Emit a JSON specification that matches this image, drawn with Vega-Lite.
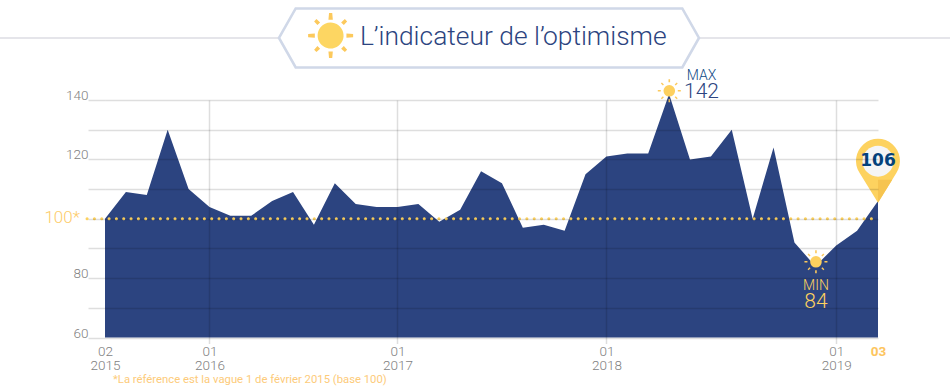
{
"$schema":"https://vega.github.io/schema/vega-lite/v6.json",
"width":773,"height":237.5,
"autosize":{"type":"none"},
"padding":{"left":105,"top":100,"right":72,"bottom":52.5},
"background":"white",
"config":{"view":{"stroke":null},"font":"Roboto"},
"datasets":{
"waves":[{"i":0,"v":100},{"i":1,"v":109},{"i":2,"v":108},{"i":3,"v":130},{"i":4,"v":110},{"i":5,"v":104},{"i":6,"v":101},{"i":7,"v":101},{"i":8,"v":106},{"i":9,"v":109},{"i":10,"v":98},{"i":11,"v":112},{"i":12,"v":105},{"i":13,"v":104},{"i":14,"v":104},{"i":15,"v":105},{"i":16,"v":99},{"i":17,"v":103},{"i":18,"v":116},{"i":19,"v":112},{"i":20,"v":97},{"i":21,"v":98},{"i":22,"v":96},{"i":23,"v":115},{"i":24,"v":121},{"i":25,"v":122},{"i":26,"v":122},{"i":27,"v":142},{"i":28,"v":120},{"i":29,"v":121},{"i":30,"v":130},{"i":31,"v":100},{"i":32,"v":124},{"i":33,"v":92},{"i":34,"v":84},{"i":35,"v":91},{"i":36,"v":96},{"i":37,"v":106}]
},
"encoding":{
 "x":{"field":"i","type":"quantitative","scale":{"domain":[0,37],"nice":false,"zero":false},
   "axis":{"values":[0,5,14,24,35,37],"title":null,"domain":false,"grid":true,"zindex":1,
     "gridColor":"#000","gridOpacity":{"condition":{"test":"datum.value==0||datum.value==37","value":0},"value":0.13},"gridWidth":1.5,
     "tickColor":"#000","tickOpacity":{"condition":{"test":"datum.value==0||datum.value==37","value":0},"value":0.13},"tickSize":6,"tickWidth":1.5,
     "labelExpr":"({'0':['02','2015'],'5':['01','2016'],'14':['01','2017'],'24':['01','2018'],'35':['01','2019'],'37':['03']})[datum.value]",
     "labelFont":"Roboto","labelFontSize":13.5,"labelLineHeight":14,"labelPadding":1,"labelOverlap":false,"labelFlush":false,"labelBound":false,
     "labelColor":{"condition":{"test":"datum.value==37","value":"#fdc55e"},"value":"#7f7f7f"},
     "labelFontWeight":{"condition":{"test":"datum.value==37","value":"bold"},"value":300}}},
 "y":{"field":"v","type":"quantitative","scale":{"domain":[60,140],"nice":false,"zero":false},
   "axis":{"values":[60,70,80,90,100,110,120,130,140],"title":null,"domain":false,"grid":true,"zindex":1,
     "gridColor":"#000","gridOpacity":0.13,"gridWidth":1.5,"tickColor":"#000","tickOpacity":0.13,"tickSize":17,"tickWidth":1.5,
     "labelExpr":"(datum.value%20==0&&datum.value!=100)?datum.label:''","labelFont":"Roboto","labelFontSize":13.5,"labelFontWeight":300,"labelColor":"#7f7f7f","labelPadding":0,"labelBaseline":"alphabetic","labelOffset":-0.5}}
},
"layer":[
{"data":{"values":[{"i":-5.03,"i2":40.45,"v":160.9}]},
 "mark":{"type":"rule","stroke":"#dcdde3","strokeWidth":1.5,"clip":false},
 "encoding":{"x2":{"field":"i2"}}},
{"data":{"name":"waves"},"mark":{"type":"area","color":"#2c4480","clip":false},
 "encoding":{"y2":{"datum":60}}},
{"data":{"values":[{"i":-0.86,"i2":37,"v":100}]},
 "mark":{"type":"rule","stroke":"#fdd25f","strokeWidth":3,"strokeDash":[0.1,7.23],"strokeCap":"round","clip":false},
 "encoding":{"x2":{"field":"i2"}}},
{"data":{"values":[{"i":18.38,"v":160.9}]},
 "mark":{"type":"point","shape":"M-210,0L-193.3,-29.5L193.3,-29.5L210,0L193.3,29.5L-193.3,29.5Z","size":4,"filled":true,"fill":"white","stroke":"#d0d8e8","strokeWidth":2.6,"opacity":1,"clip":false}},
{"data":{"values":[{"i":10.8,"v":161.7}]},
 "mark":{"type":"point","shape":"M-1.6,-22.5L1.6,-22.5L2.2,-15.8L-2.2,-15.8Z M-2.2,15.8L2.2,15.8L1.6,22.5L-1.6,22.5Z M-22.5,-1.6L-15.8,-2.2L-15.8,2.2L-22.5,1.6Z M15.8,-2.2L22.5,-1.6L22.5,1.6L15.8,2.2Z M-16.5,-14.2L-14.2,-16.5L-10.5,-13.2L-13.2,-10.5Z M16.5,-14.2L14.2,-16.5L10.5,-13.2L13.2,-10.5Z M-16.5,14.2L-14.2,16.5L-10.5,13.2L-13.2,10.5Z M16.5,14.2L14.2,16.5L10.5,13.2L13.2,10.5Z","size":4,"filled":true,"fill":"#fcc95c","stroke":null,"opacity":1,"clip":false}},
{"data":{"values":[{"i":10.8,"v":161.7}]},
 "mark":{"type":"point","shape":"circle","size":530,"filled":true,"fill":"#f8c453","stroke":null,"opacity":1,"clip":false}},
{"data":{"values":[{"i":10.8,"v":161.7}]},
 "mark":{"type":"point","shape":"M4,-12.4A13,13 0 1 0 2,12.8A13,13 0 0 0 4,-12.4Z","size":4,"filled":true,"fill":"#fdd662","stroke":null,"opacity":1,"clip":false}},
{"data":{"values":[{"i":27.01,"v":143.1},{"i":34.03,"v":85.5}]},
 "mark":{"type":"point","shape":"M-11.5,-0.8L-8.5,-0.8L-8.5,0.8L-11.5,0.8Z M8.5,-0.8L11.5,-0.8L11.5,0.8L8.5,0.8Z M-0.8,-11.5L0.8,-11.5L0.8,-8.5L-0.8,-8.5Z M-0.8,8.5L0.8,8.5L0.8,11.5L-0.8,11.5Z M-8.4,-7.4L-7.4,-8.4L-5.4,-6.4L-6.4,-5.4Z M8.4,-7.4L7.4,-8.4L5.4,-6.4L6.4,-5.4Z M-8.4,7.4L-7.4,8.4L-5.4,6.4L-6.4,5.4Z M8.4,7.4L7.4,8.4L5.4,6.4L6.4,5.4Z","size":4,"filled":true,"fill":"#fcc95c","stroke":null,"opacity":1,"clip":false}},
{"data":{"values":[{"i":27.01,"v":143.1},{"i":34.03,"v":85.5}]},
 "mark":{"type":"point","shape":"circle","size":135,"filled":true,"fill":"#fdd05f","stroke":null,"opacity":1,"clip":false}},
{"data":{"values":[{"i":37,"v":105.4}]},
 "mark":{"type":"point","shape":"M0,0L-18.5,-30A22,22 0 1 1 18.5,-30Z","size":4,"filled":true,"fill":"#fdd25f","stroke":null,"opacity":1,"clip":false}},
{"data":{"values":[{"i":37,"v":105.4}]},
 "mark":{"type":"point","shape":"M0,0L0,-23L14.2,-23Z","size":4,"filled":true,"fill":"#f6c450","stroke":null,"opacity":1,"clip":false}},
{"data":{"values":[{"i":37,"v":119.4}]},
 "mark":{"type":"point","shape":"circle","size":960,"filled":true,"fill":"#f5f5f6","stroke":null,"opacity":1,"clip":false}},
{"data":{"values":[{"i":37,"v":119.4,"t":"106"}]},
 "mark":{"type":"text","font":"DejaVu Sans","fontWeight":"bold","fontSize":17,"fill":"#04427c","align":"center","baseline":"middle","clip":false},
 "encoding":{"text":{"field":"t"}}},
{"data":{"values":[{"i":12.2,"v":158.6,"t":"L’indicateur de l’optimisme"}]},
 "mark":{"type":"text","font":"Roboto","fontSize":26.4,"fontWeight":300,"fill":"#2c4480","align":"left","baseline":"alphabetic","clip":false},
 "encoding":{"text":{"field":"t"}}},
{"data":{"values":[{"i":-1.2,"v":98.5,"t":"100*"}]},
 "mark":{"type":"text","font":"Roboto","fontSize":17,"fontWeight":300,"fill":"#fdcb6a","align":"right","baseline":"alphabetic","clip":false},
 "encoding":{"text":{"field":"t"}}},
{"data":{"values":[{"i":0.38,"v":44.7,"t":"*La référence est la vague 1 de février 2015 (base 100)"}]},
 "mark":{"type":"text","font":"Roboto","fontSize":11.3,"fontWeight":400,"fill":"#fdcb7a","align":"left","baseline":"alphabetic","clip":false},
 "encoding":{"text":{"field":"t"}}},
{"data":{"values":[{"i":28.55,"v":146.8,"t":"MAX"}]},
 "mark":{"type":"text","font":"Roboto","fontSize":14,"fontWeight":300,"fill":"#0f4a85","align":"center","baseline":"alphabetic","clip":false},
 "encoding":{"text":{"field":"t"}}},
{"data":{"values":[{"i":28.55,"v":140.7,"t":"142"}]},
 "mark":{"type":"text","font":"Roboto","fontSize":21,"fontWeight":300,"fill":"#2c4480","align":"center","baseline":"alphabetic","clip":false},
 "encoding":{"text":{"field":"t"}}},
{"data":{"values":[{"i":34.03,"v":75.9,"t":"MIN"}]},
 "mark":{"type":"text","font":"Roboto","fontSize":14,"fontWeight":300,"fill":"#fdd25f","align":"center","baseline":"alphabetic","clip":false},
 "encoding":{"text":{"field":"t"}}},
{"data":{"values":[{"i":34.03,"v":69.9,"t":"84"}]},
 "mark":{"type":"text","font":"Roboto","fontSize":21,"fontWeight":300,"fill":"#fdd25f","align":"center","baseline":"alphabetic","clip":false},
 "encoding":{"text":{"field":"t"}}}
]
}
